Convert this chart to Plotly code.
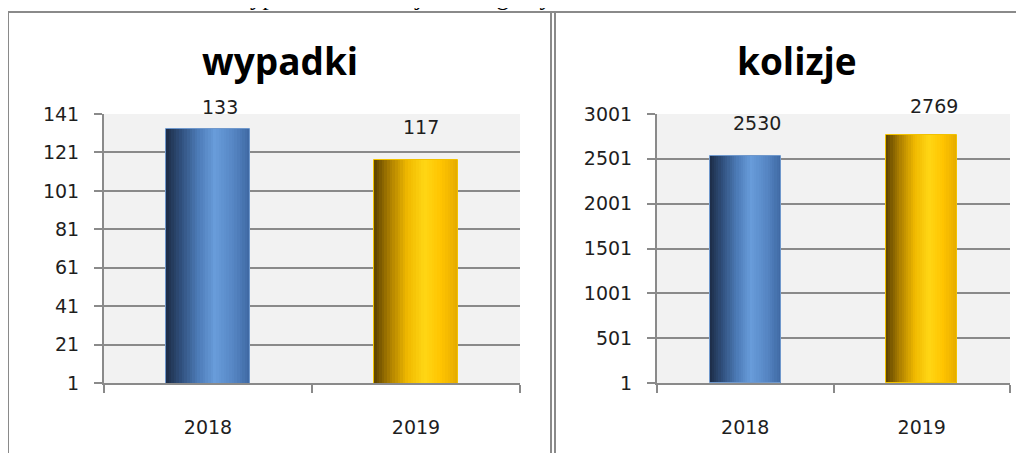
import plotly.graph_objects as go

# data
years = ["2018", "2019"]
wypadki = [133, 117]
kolizje = [2530, 2769]
wypadki_ticks = [1, 21, 41, 61, 81, 101, 121, 141]
kolizje_ticks = [1, 501, 1001, 1501, 2001, 2501, 3001]

W, H = 1024, 453
OFF = 8  # page body margin shifts the figure by this much
GRAY = "#8a8a8a"
TICK_FONT = dict(family="DejaVu Sans", size=19, color="#1e1e1e")

# cylinder-like shading, colour stops left -> right
blue_stops = [(0.0, (28, 44, 70)), (0.18, (48, 80, 125)), (0.38, (76, 122, 182)),
              (0.58, (104, 156, 218)), (0.8, (86, 134, 196)), (1.0, (62, 104, 162))]
gold_stops = [(0.0, (92, 66, 0)), (0.2, (176, 130, 0)), (0.4, (240, 185, 0)),
              (0.6, (255, 214, 20)), (0.8, (255, 196, 0)), (1.0, (228, 170, 0))]


def shade(stops, t):
    for (t0, c0), (t1, c1) in zip(stops, stops[1:]):
        if t0 <= t <= t1:
            f = (t - t0) / (t1 - t0)
            c = [round(a + (b - a) * f) for a, b in zip(c0, c1)]
            return "rgb(%d,%d,%d)" % tuple(c)
    return "rgb(%d,%d,%d)" % stops[-1][1]


def px(x):
    return (x - OFF) / W


def py(y):
    return 1 - (y - OFF) / H


def add_bars(fig, values, xa, ya, bw=0.405, n=32):
    ''' draws each bar as n narrow strips to fake the gradient '''
    step = bw / n
    for k in range(n):
        t = (k + 0.5) / n
        w = step * 1.6 if k < n - 1 else step
        fig.add_trace(go.Bar(
            x=years, y=values, xaxis=xa, yaxis=ya,
            width=w, offset=-bw / 2 + k * step,
            marker=dict(color=[shade(blue_stops, t), shade(gold_stops, t)], line_width=0),
            showlegend=False, hoverinfo="skip",
        ))
    fig.add_trace(go.Bar(
        x=years, y=values, xaxis=xa, yaxis=ya, width=bw, offset=-bw / 2,
        marker=dict(color="rgba(0,0,0,0)", line=dict(color=["#6f98cc", "#f2c200"], width=1)),
        showlegend=False, hoverinfo="skip",
    ))


fig = go.Figure()
add_bars(fig, wypadki, "x", "y")
add_bars(fig, kolizje, "x2", "y2")

xcommon = dict(type="category", categoryarray=years, range=[-0.5, len(years) - 0.5],
               automargin=False, showline=True, linecolor=GRAY, linewidth=2,
               ticks="outside", tickson="boundaries", ticklen=8, tickcolor=GRAY, tickwidth=2,
               ticklabelstandoff=26, tickfont=TICK_FONT, showgrid=False, tickangle=0)
ycommon = dict(automargin=False, showline=True, linecolor=GRAY, linewidth=2,
               ticks="outside", ticklen=8, tickcolor=GRAY, tickwidth=2,
               showgrid=True, gridcolor=GRAY, gridwidth=2,
               zeroline=False, tickfont=TICK_FONT, ticklabelstandoff=11)

fig.update_layout(
    width=W, height=H,
    margin=dict(l=0, r=0, t=0, b=0, autoexpand=False),
    paper_bgcolor="white", plot_bgcolor="#f2f2f2",
    barmode="overlay", bargap=0,
    xaxis=dict(domain=[px(104), px(520)], anchor="y", **xcommon),
    yaxis=dict(domain=[py(383), py(114)], anchor="x", range=[1, 141],
               tickvals=wypadki_ticks, **ycommon),
    xaxis2=dict(domain=[px(657), px(1010)], anchor="y2", **xcommon),
    yaxis2=dict(domain=[py(383), py(114)], anchor="x2", range=[1, 3001],
                tickvals=kolizje_ticks, **ycommon),
)

# value labels (hand-placed in the original, so small shifts per bar)
label_dx = [[12, 5], [12, 12]]
label_dy = [[22, 33], [33, 29]]
for i, (vals, xr, yr) in enumerate([(wypadki, "x", "y"), (kolizje, "x2", "y2")]):
    for j, v in enumerate(vals):
        fig.add_annotation(x=j, y=v, xref=xr, yref=yr, text=str(v),
                           showarrow=False, xanchor="center", yanchor="middle",
                           xshift=label_dx[i][j], yshift=label_dy[i][j], font=TICK_FONT)

# chart titles
TITLE_FONT = dict(family="Open Sans", size=37, color="black")
fig.add_annotation(x=px(280), y=py(60), xref="paper", yref="paper", text="<b>wypadki</b>",
                   xanchor="center", yanchor="middle", showarrow=False, font=TITLE_FONT)
fig.add_annotation(x=px(797), y=py(60), xref="paper", yref="paper", text="<b>kolizje</b>",
                   xanchor="center", yanchor="middle", showarrow=False, font=TITLE_FONT)

# line of document text cut off at the top of the picture
fig.add_annotation(x=px(230), y=1, xref="paper", yref="paper", xanchor="left", yanchor="bottom",
                   yshift=-4, text="wypadkach i kolizjach drogowych", showarrow=False,
                   font=dict(family="Liberation Serif", size=25, color="black"))

# chart frames
frame = dict(type="line", xref="paper", yref="paper", line=dict(color=GRAY, width=2))
fig.add_shape(x0=px(8), x1=1, y0=py(12), y1=py(12), **frame)
fig.add_shape(x0=px(8), x1=px(8), y0=0, y1=py(12), **frame)
fig.add_shape(x0=px(551), x1=px(551), y0=0, y1=py(12), **frame)
fig.add_shape(x0=px(555), x1=px(555), y0=0, y1=py(12), **frame)

fig.write_html("out.html")
